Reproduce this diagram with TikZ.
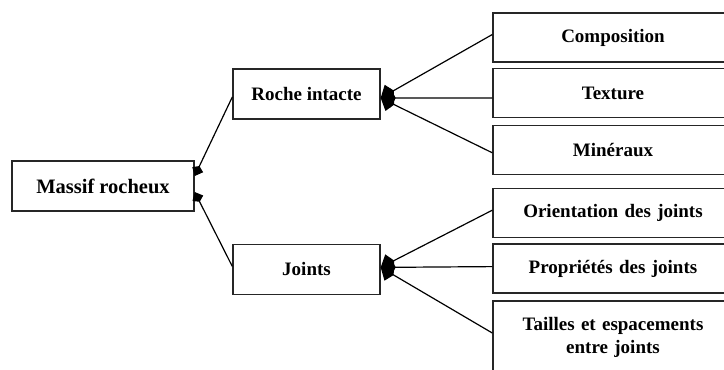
\documentclass[tikz,border=0pt]{standalone}
\usepackage{fontspec}
\setmainfont{Liberation Serif}
\usetikzlibrary{positioning}
\usetikzlibrary{arrows.meta}

\begin{document}
\begin{tikzpicture}[
		x=1pt,y=1pt,
		>={Kite[length=15pt,width=19pt,inset=5pt]},
		every node/.append style={
			draw=black!85,
			line width=1.4pt,
			inner sep=2pt,
			font=\fontsize{19}{24}\selectfont\bfseries,
			align=center,
		},
		mainbox/.style={minimum width=182pt,minimum height=50pt},
		midbox/.style={minimum width=147pt,minimum height=50pt},
		leafbox/.style={text width=236pt,minimum height=49pt},
		smallhead/.style={-{Kite[length=11pt,width=12pt,inset=4pt]}},
	]
	\useasboundingbox (0,0) rectangle (724,-370);
	\clip (0,0) rectangle (724,-370);
	% left side of the picture
	\node[mainbox,font=\fontsize{20.5}{24}\selectfont\bfseries] (massif) at (103,-186) {Massif rocheux};
	\node[midbox] (roche) at (306.5,-94) {Roche intacte};
	\node[midbox] (joints) [below=124pt of roche] {Joints};
	% right side of the picture
	\node[leafbox] (composition) at (613,-37.5) {Composition};
	\node[leafbox] (texture) [below=5pt of composition] {Texture};
	\node[leafbox] (mineraux) [below=6.5pt of texture] {Minéraux};
	\node[leafbox] (orientation) [below=13pt of mineraux] {Orientation des joints};
	\node[leafbox] (proprietes) [below=5pt of orientation] {Propriétés des joints};
	\node[leafbox,minimum height=72pt,anchor=north] (tailles) [below=6.5pt of proprietes] {Tailles et espacements\\[-1pt] entre joints\\[16pt]};
	% draw the connection lines
	\draw[->,line width=1.2pt] ([yshift=3pt]composition.west) -- ([yshift=-4pt]roche.east);
	\draw[->,line width=1.2pt] ([yshift=-5pt]texture.west) -- ([yshift=-4pt]roche.east);
	\draw[->,line width=1.2pt] ([yshift=-3pt]mineraux.west) -- ([yshift=-4pt]roche.east);
	\draw[->,line width=1.2pt] ([yshift=3pt]orientation.west) -- ([yshift=2pt]joints.east);
	\draw[->,line width=1.2pt] ([yshift=2pt]proprietes.west) -- ([yshift=2pt]joints.east);
	\draw[->,line width=1.2pt] ([yshift=4pt]tailles.west) -- ([yshift=2pt]joints.east);
	\draw[smallhead,line width=1.2pt] ([yshift=-3pt]roche.west) -- ([yshift=10pt]massif.east);
	\draw[smallhead,line width=1.2pt] ([yshift=3pt]joints.west) -- ([yshift=-6pt]massif.east);
\end{tikzpicture}
\end{document}
